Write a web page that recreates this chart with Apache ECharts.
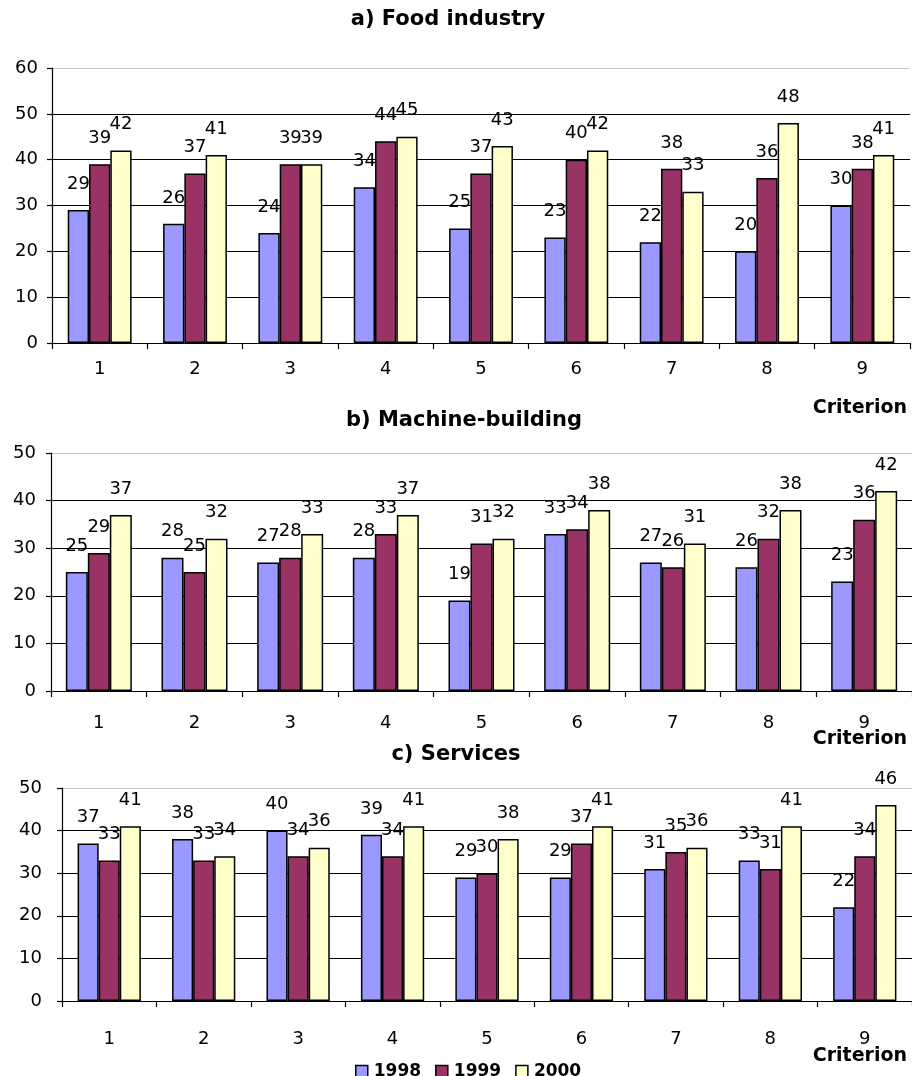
<!DOCTYPE html>
<html>
<head>
<meta charset="utf-8">
<script src="https://cdn.jsdelivr.net/npm/echarts@6/dist/echarts.min.js"></script>
<style>
  html, body { margin: 0; padding: 0; background: #fff; }
  #chart { width: 912px; height: 1076px; }
</style>
</head>
<body>
<div id="chart"></div>
<script>
// Criterion numbers along the x axis
const categories = ['1', '2', '3', '4', '5', '6', '7', '8', '9'];
const years = ['1998', '1999', '2000'];

// a) Food industry
const food1998 = [29, 26, 24, 34, 25, 23, 22, 20, 30];
const food1999 = [39, 37, 39, 44, 37, 40, 38, 36, 38];
const food2000 = [42, 41, 39, 45, 43, 42, 33, 48, 41];

// b) Machine-building
const machine1998 = [25, 28, 27, 28, 19, 33, 27, 26, 23];
const machine1999 = [29, 25, 28, 33, 31, 34, 26, 32, 36];
const machine2000 = [37, 32, 33, 37, 32, 38, 31, 38, 42];

// c) Services
const services1998 = [37, 38, 40, 39, 29, 29, 31, 33, 22];
const services1999 = [33, 33, 34, 34, 30, 37, 35, 31, 34];
const services2000 = [41, 34, 36, 41, 38, 41, 36, 41, 46];

const yMaxFood = 60;
const yMaxOther = 50;

const FONT = 'DejaVu Sans';
const yearColors = ['#9999FF', '#993366', '#FFFFCC'];

const panels = [
  { title: 'a) Food industry', titleX: 448, titleY: 20,
    grid: { left: 52, right: 2, top: 68, height: 275 },
    max: yMaxFood, labelMargin: 14, catMargin: 17, gap: '33%',
    criterionY: 408,
    data: [food1998, food1999, food2000] },
  { title: 'b) Machine-building', titleX: 464, titleY: 421,
    grid: { left: 51, right: -6, top: 453, height: 238 },
    max: yMaxOther, labelMargin: 15, catMargin: 23, gap: '31%',
    criterionY: 739,
    data: [machine1998, machine1999, machine2000] },
  { title: 'c) Services', titleX: 456, titleY: 755,
    grid: { left: 62, right: -4, top: 788, height: 213 },
    max: yMaxOther, labelMargin: 20, catMargin: 29, gap: '33%',
    criterionY: 1056,
    data: [services1998, services1999, services2000] }
];

const grids = [], xAxes = [], yAxes = [], series = [], graphics = [];

panels.forEach((p, i) => {
  grids.push(Object.assign({ containLabel: false }, p.grid));

  xAxes.push({
    type: 'category', gridIndex: i, data: categories,
    axisLine: { lineStyle: { color: '#000', width: 1.2 } },
    axisTick: { show: true, length: 6, lineStyle: { color: '#000', width: 1.2 } },
    axisLabel: { color: '#000', fontFamily: FONT, fontSize: 18, margin: p.catMargin },
    splitLine: { show: false }
  });

  // one split line per tick from 0 to max; the top one is the light plot border
  const lineColors = [];
  for (let v = 0; v < p.max; v += 10) lineColors.push('#000');
  lineColors.push('#c4c4c4');

  yAxes.push({
    type: 'value', gridIndex: i, min: 0, max: p.max, interval: 10,
    axisLine: { show: true, lineStyle: { color: '#000', width: 1.2 } },
    axisTick: { show: true, length: 5, lineStyle: { color: '#000', width: 1.2 } },
    axisLabel: { color: '#000', fontFamily: FONT, fontSize: 18, margin: p.labelMargin },
    splitLine: { show: true, lineStyle: { color: lineColors, width: 1.2 } }
  });

  years.forEach((y, k) => {
    series.push({
      type: 'bar', name: y, xAxisIndex: i, yAxisIndex: i,
      data: p.data[k],
      barGap: '0%', barCategoryGap: p.gap,
      itemStyle: { color: yearColors[k], borderColor: '#000', borderWidth: 1.5 },
      label: {
        show: true, position: 'top', distance: 17,
        color: '#000', fontFamily: FONT, fontSize: 18
      },
      emphasis: { disabled: true },
      animation: false
    });
  });

  graphics.push({
    type: 'text', x: p.titleX, y: p.titleY,
    style: { text: p.title, fill: '#000', font: 'bold 21px "DejaVu Sans"',
             textAlign: 'center', textVerticalAlign: 'middle' }
  });
  graphics.push({
    type: 'text', x: 907, y: p.criterionY,
    style: { text: 'Criterion', fill: '#000', font: 'bold 19px "DejaVu Sans"',
             textAlign: 'right', textVerticalAlign: 'middle' }
  });
});

const chart = echarts.init(document.getElementById('chart'), null, { renderer: 'canvas' });
chart.setOption({
  backgroundColor: '#fff',
  animation: false,
  grid: grids,
  xAxis: xAxes,
  yAxis: yAxes,
  series: series,
  graphic: graphics,
  legend: {
    data: years, left: 350, top: 1058,
    itemWidth: 12, itemHeight: 12, itemGap: 14,
    icon: 'rect',
    itemStyle: { borderColor: '#000', borderWidth: 1.5 },
    textStyle: { color: '#000', fontFamily: FONT, fontWeight: 'bold', fontSize: 17, padding: [0, 0, 0, 1] }
  }
});
</script>
</body>
</html>
